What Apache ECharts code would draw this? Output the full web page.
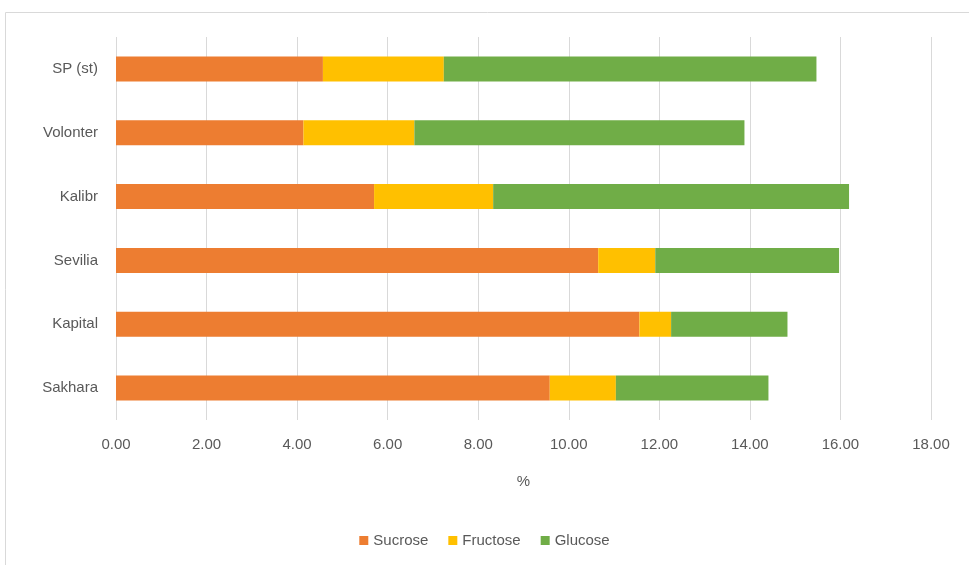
<!DOCTYPE html>
<html>
<head>
<meta charset="utf-8">
<script src="https://cdn.jsdelivr.net/npm/echarts@6/dist/echarts.min.js"></script>
<style>
  html, body { margin: 0; padding: 0; background: #fff; }
  #chart { width: 969px; height: 565px; }
</style>
</head>
<body>
<div id="chart"></div>
<script>
// 品种（从上到下）
var varieties = ['SP (st)', 'Volonter', 'Kalibr', 'Sevilia', 'Kapital', 'Sakhara'];
// 各糖含量 %
var sucrose = [4.57, 4.14, 5.70, 10.65, 11.56, 9.58];
var fructose = [2.67, 2.45, 2.63, 1.26, 0.70, 1.46];
var glucose = [8.23, 7.29, 7.86, 4.06, 2.57, 3.37];
var seriesNames = ['Sucrose', 'Fructose', 'Glucose'];
var seriesColors = ['#ed7d31', '#ffc000', '#70ad47'];

var chart = echarts.init(document.getElementById('chart'));
var fontFamily = "'Liberation Sans Narrow', 'Liberation Sans', sans-serif";

function makeSeries(name, data, color) {
    return {
        name: name,
        type: 'bar',
        stack: 'total',
        barWidth: 25,
        data: data,
        itemStyle: { color: color },
        emphasis: { disabled: true }
    };
}

var option = {
    animation: false,
    textStyle: { fontFamily: fontFamily },
    graphic: [{
        type: 'rect',
        shape: { x: 5.5, y: 12.5, width: 1000, height: 600 },
        style: { fill: 'none', stroke: '#d9d9d9', lineWidth: 1 },
        silent: true
    }],
    grid: { left: 116, right: 38, top: 37, bottom: 145 },
    legend: {
        bottom: 12,
        left: 'center',
        itemWidth: 9,
        itemHeight: 9,
        itemGap: 20,
        icon: 'rect',
        data: seriesNames,
        textStyle: { color: '#595959', fontSize: 15, fontFamily: fontFamily }
    },
    xAxis: {
        type: 'value',
        min: 0,
        max: 18,
        interval: 2,
        name: '%',
        nameLocation: 'middle',
        nameGap: 54,
        nameTextStyle: { color: '#595959', fontSize: 15, fontFamily: fontFamily },
        axisLine: { show: false },
        axisTick: { show: false },
        axisLabel: {
            color: '#595959',
            fontSize: 15,
            margin: 17,
            formatter: function (v) { return v.toFixed(2); }
        },
        splitLine: { show: true, lineStyle: { color: '#d9d9d9', width: 1 } }
    },
    yAxis: {
        type: 'category',
        inverse: true,
        data: varieties,
        axisLine: { show: false },
        axisTick: { show: false },
        axisLabel: { color: '#595959', fontSize: 15, margin: 18 }
    },
    series: [
        makeSeries(seriesNames[0], sucrose, seriesColors[0]),
        makeSeries(seriesNames[1], fructose, seriesColors[1]),
        makeSeries(seriesNames[2], glucose, seriesColors[2])
    ]
};

chart.setOption(option);
</script>
</body>
</html>
